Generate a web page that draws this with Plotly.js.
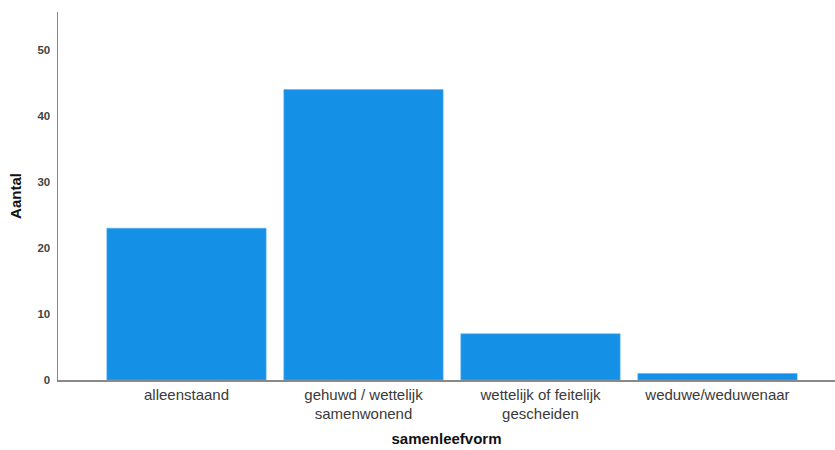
<!DOCTYPE html>
<html>
<head>
<meta charset="utf-8">
<script src="https://cdn.plot.ly/plotly-3.0.1.min.js"></script>
<style>html,body{margin:0;padding:0;background:#fff;}#chart{width:835px;height:450px;}</style>
</head>
<body>
<div id="chart"></div>
<script>
const categories = ["alleenstaand", "gehuwd / wettelijk<br>samenwonend", "wettelijk of feitelijk<br>gescheiden", "weduwe/weduwenaar"];
const counts = [23, 44, 7, 1];
const yTicks = [0, 10, 20, 30, 40, 50];

const trace = {
  type: "bar",
  x: [0, 1, 2, 3],
  y: counts,
  width: 0.9,
  marker: {color: "#1490e6", line: {color: "#5aaeee", width: 0.6}},
  hoverinfo: "skip"
};

const layout = {
  width: 835, height: 450,
  margin: {l: 58, r: 0, t: 12, b: 70},
  paper_bgcolor: "#fff", plot_bgcolor: "#fff",
  showlegend: false,
  font: {family: "Liberation Sans, Arial, sans-serif", color: "#333"},
  xaxis: {
    range: [-0.726, 3.664],
    tickvals: [0, 1, 2, 3],
    ticktext: categories,
    tickfont: {size: 15, color: "#3a3a3a"},
    showline: true, linecolor: "#888", linewidth: 1.5,
    showgrid: false, zeroline: false, ticks: "",
    ticklabelstandoff: 0,
    title: {text: "samenleefvorm", font: {size: 15, color: "#111", weight: "bold"}, standoff: 12}
  },
  yaxis: {
    range: [0, 55.76],
    tickvals: yTicks,
    tickfont: {size: 11.5, color: "#444", weight: "bold"},
    showline: true, linecolor: "#888", linewidth: 1.5,
    showgrid: false, zeroline: false, ticks: "",
    ticklabelstandoff: 4,
    title: {text: "Aantal", font: {size: 15, color: "#111", weight: "bold"}, standoff: 12}
  }
};

Plotly.newPlot("chart", [trace], layout, {displayModeBar: false, staticPlot: true});
</script>
</body>
</html>
